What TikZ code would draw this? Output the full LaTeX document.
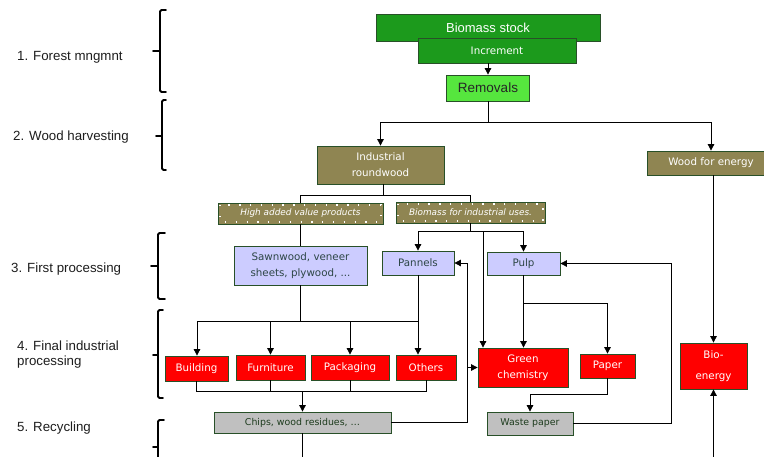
\documentclass[tikz,border=0pt]{standalone}
\usepackage{fontspec}
\setmainfont{Liberation Sans}
\newfontfamily\dv{DejaVu Sans}
\usetikzlibrary{arrows.meta}
\definecolor{dgreen}{RGB}{28,154,28}
\definecolor{lgreen}{RGB}{86,230,62}
\definecolor{olivebox}{RGB}{143,133,82}
\definecolor{lav}{RGB}{204,204,255}
\definecolor{boxred}{RGB}{255,0,0}
\definecolor{greybox}{RGB}{192,192,192}
\definecolor{bd}{RGB}{40,80,40}
\definecolor{lavtext}{RGB}{45,70,70}
\definecolor{greytext}{RGB}{30,60,30}
\definecolor{labc}{RGB}{30,30,30}
\tikzset{
 box/.style={draw=bd, line width=0.8pt, inner sep=0pt, align=center, font=\dv\fontsize{10.3}{16}\selectfont},
 gbox/.style={box, fill=dgreen, text=white},
 obox/.style={box, fill=olivebox, text=white},
 lbox/.style={box, fill=lav, text=lavtext},
 rbox/.style={box, fill=boxred, text=white},
 sbox/.style={box, fill=greybox, text=greytext, font=\dv\fontsize{9.4}{12}\selectfont},
 ibox/.style={box, fill=olivebox, text=white, font=\dv\itshape\fontsize{8.9}{11}\selectfont},
 ln/.style={line width=0.8pt, draw=black},
 arr/.style={ln, -{Triangle[width=6.5pt,length=6.5pt]}},
 bracepath/.style={line width=1.8pt, rounded corners=1.5pt, line cap=round},
 lab/.style={font=\fontsize{13.3}{15}\selectfont, text=labc, anchor=west, inner sep=0pt, align=left},
 dots/.style={white, line width=1.3pt, dash pattern=on 1.3pt off 9.5pt}
}
\begin{document}
\begin{tikzpicture}[x=1pt,y=-1pt]
\useasboundingbox (0,0) rectangle (764,456);
\clip (0,0) rectangle (764,456);
\fill[white] (0,0) rectangle (764,456);

% left labels
\node[lab] (l1) at (17,57) {1. Forest mngmnt};
\node[lab] (l2) at (13,137) {2. Wood harvesting};
\node[lab] (l3) at (11,269) {3. First processing};
\node[lab] (l4) at (17,355) {4. Final industrial\\processing};
\node[lab] (l5) at (17,428) {5. Recycling};

% braces
\draw[bracepath] (166,10) -- (160,10) -- (160,92) -- (166,92);
\draw[bracepath] (160,51) -- (153,51);
\draw[bracepath] (166,100) -- (162,100) -- (162,170) -- (166,170);
\draw[bracepath] (162,136) -- (156,136);
\draw[bracepath] (165,233) -- (158,233) -- (158,299) -- (165,299);
\draw[bracepath] (158,266) -- (151,266);
\draw[bracepath] (163,310) -- (158,310) -- (158,398) -- (163,398);
\draw[bracepath] (158,355) -- (153,355);
\draw[bracepath] (164,420) -- (158,420) -- (158,470);
\draw[bracepath] (158,447) -- (153,447);

% nodes
\node[gbox, minimum width=224pt, minimum height=27pt, font=\fontsize{13}{15}\selectfont] (bio) at (488,28) {Biomass stock};
\node[gbox, minimum width=158pt, minimum height=25pt] (inc) at (497,50.5) {Increment};
\node[box, fill=lgreen, text=black!85, minimum width=83pt, minimum height=26pt, font=\fontsize{13.5}{15}\selectfont] (rem) at (488,88) {Removals};
\node[obox, minimum width=127pt, minimum height=38pt] (ir) at (380.5,165) {Industrial\\roundwood};
\node[obox, minimum width=128pt, minimum height=24pt] (wfe) at (711,163) {Wood for energy};
\node[ibox, minimum width=165pt, minimum height=21pt] (havp) at (300.5,213.5) {High added value products};
\node[ibox, minimum width=149pt, minimum height=21pt] (biu) at (470.5,212.5) {Biomass for industrial uses.};
\draw[dots] ([shift={(2.5,2.5)}]havp.north west) rectangle ([shift={(-2.5,-2.5)}]havp.south east);
\draw[dots] ([shift={(2.5,2.5)}]biu.north west) rectangle ([shift={(-2.5,-2.5)}]biu.south east);
\node[lbox, minimum width=133pt, minimum height=39pt] (saw) at (300.5,265.5) {Sawnwood, veneer\\sheets, plywood, ...};
\node[lbox, minimum width=72pt, minimum height=24pt] (pan) at (418,263) {Pannels};
\node[lbox, minimum width=73pt, minimum height=23pt] (pulp) at (523.5,263.5) {Pulp};
\node[rbox, minimum width=63pt, minimum height=25pt] (bld) at (196.5,368.5) {Building};
\node[rbox, minimum width=69pt, minimum height=25pt] (fur) at (270.5,367.5) {Furniture};
\node[rbox, minimum width=78pt, minimum height=25pt] (pkg) at (350,367.5) {Packaging};
\node[rbox, minimum width=60pt, minimum height=25pt] (oth) at (426,367.5) {Others};
\node[rbox, minimum width=90pt, minimum height=39pt] (gc) at (523,367.5) {Green\\chemistry};
\node[rbox, minimum width=55pt, minimum height=24pt] (pap) at (607.5,366) {Paper};
\node[rbox, minimum width=67pt, minimum height=46pt, font=\dv\fontsize{10.3}{21}\selectfont] (be) at (713.5,366) {Bio-\\energy};
\node[sbox, minimum width=177pt, minimum height=21pt] (chips) at (302.5,422.5) {Chips, wood residues, …};
\node[sbox, minimum width=86pt, minimum height=23pt] (wp) at (530,423.5) {Waste paper};

% coordinates
\coordinate (j1) at (488,122);
\coordinate (j2) at (383,195);
\coordinate (j3) at (471,231);
\coordinate (j4) at (483,231);
\coordinate (j5) at (197,321);
\coordinate (j6) at (197,391);
\coordinate (j7) at (467,423);
\coordinate (j8) at (523,303);
\coordinate (j9) at (607,394);
\coordinate (j10) at (671,424);
\coordinate (e1) at (303,460);
\coordinate (e2) at (713.5,460);

% connectors
\draw[arr] (inc.south -| rem.north) -- (rem.north);
\draw[ln] (rem.south) -- (rem.south |- j1);
\draw[arr] (j1) -| (ir.north);
\draw[arr] (j1) -| (wfe.north);
\draw[ln] (ir.south -| j2) -- (j2);
\draw[ln] (j2) -| (havp.north);
\draw[ln] (j2) -| (biu.north);
\draw[ln] (havp.south) -- (saw.north);
\draw[ln] (biu.south) -- (biu.south |- j3);
\draw[arr] (j3) -| (pan.north);
\draw[arr] (j3) -| (pulp.north);
\draw[arr] (j4) -- (j4 |- gc.north);
\draw[ln] (saw.south) -- (saw.south |- j5);
\draw[ln] (j5) -- (pan.south |- j5);
\draw[arr] (pan.south) -- (pan.south |- oth.north);
\draw[arr] (j5) -- (j5 |- bld.north);
\draw[arr] (fur.north |- j5) -- (fur.north);
\draw[arr] (pkg.north |- j5) -- (pkg.north);
\draw[ln] (bld.south) -- (bld.south |- j6) -- (oth.south |- j6) -- (oth.south);
\draw[ln] (fur.south) -- (fur.south |- j6);
\draw[ln] (pkg.south) -- (pkg.south |- j6);
\draw[arr] (chips.north |- j6) -- (chips.north);
\draw[ln] (chips.south) -- (chips.south |- e1);
\draw[arr] (chips.east) -| (j7 |- pan.east) -- (pan.east);
\draw[arr] (j7 |- gc.west) -- (gc.west);
\draw[arr] (pulp.south) -- (pulp.south |- gc.north);
\draw[arr] (pulp.south |- j8) -| (pap.north);
\draw[arr] (pap.south) |- (wp.north |- j9) -- (wp.north);
\draw[arr] (wp.east) -| (j10 |- pulp.east) -- (pulp.east);
\draw[arr] (wfe.south -| be.north) -- (be.north);
\draw[arr] (be.south |- e2) -- (be.south);
\end{tikzpicture}
\end{document}
